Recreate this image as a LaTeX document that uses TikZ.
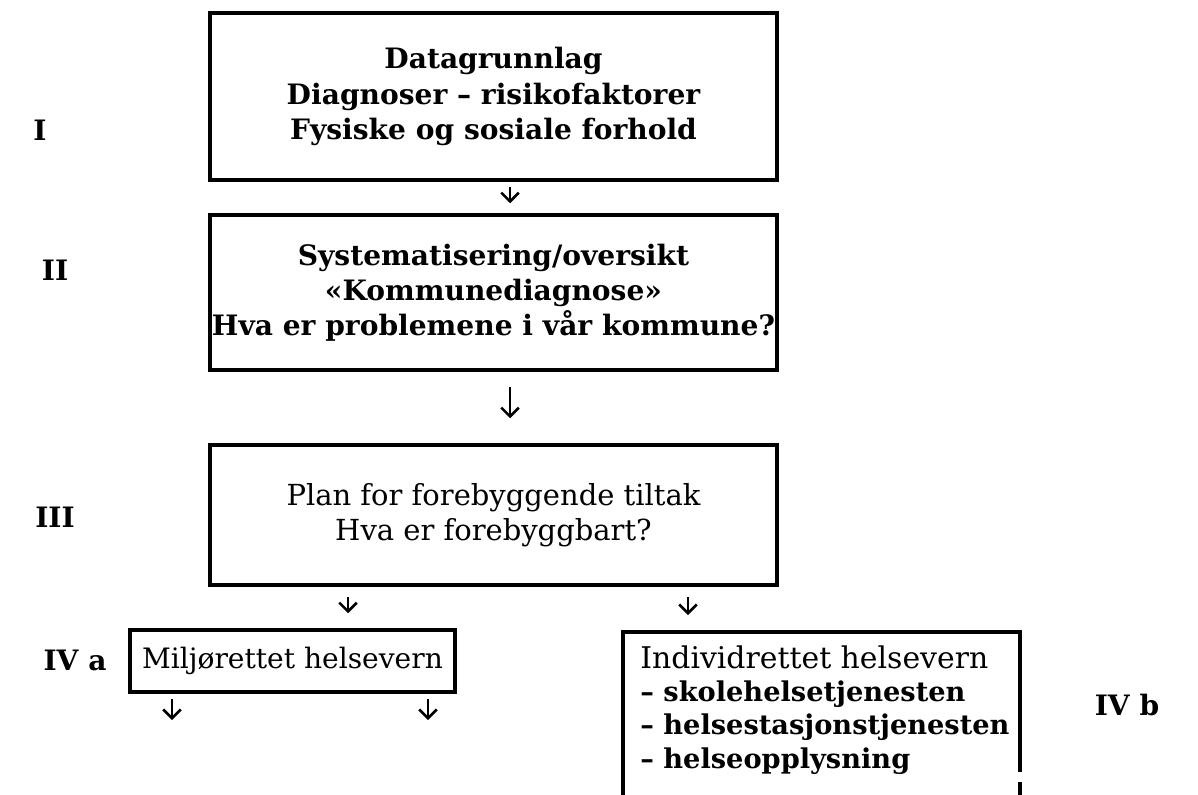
\documentclass[tikz,border=0pt]{standalone}
\usepackage{fontspec}
\setmainfont{DejaVu Serif}
\usetikzlibrary{arrows.meta, positioning}

\tikzset{
  stage/.style={draw, line width=2pt, align=center, inner sep=0pt,
    font=\fontsize{16}{20}\selectfont},
  level/.style={font=\bfseries\fontsize{16}{20}\selectfont},
  arr/.style={line width=1.5pt, -{Straight Barb[length=5pt,width=10pt,line width=1.5pt]}}
}

\begin{document}
\begin{tikzpicture}[x=0.02cm, y=-0.02cm]

  \useasboundingbox (0,0) rectangle (1198,795);

  % main column
  \node[stage, minimum width=567*0.02cm, minimum height=167*0.02cm] (data) at (493.5,96.5)
    {\bfseries Datagrunnlag\\ \bfseries Diagnoser -- risikofaktorer\\ \bfseries Fysiske og sosiale forhold};
  \node[stage, minimum width=567*0.02cm, minimum height=155*0.02cm] (syst) at (493.5,292.5)
    {\bfseries Systematisering/oversikt\\ \bfseries «Kommunediagnose»\\ \bfseries Hva er problemene i vår kommune?};
  \node[stage, minimum width=567*0.02cm, minimum height=140*0.02cm] (plan) at (493.5,515)
    {\fontsize{16.5}{20}\selectfont Plan for forebyggende tiltak\\ \fontsize{16.5}{20}\selectfont Hva er forebyggbart?};

  % level IV
  \node[stage, minimum width=325*0.02cm, minimum height=62*0.02cm] (milj) at (292.5,661)
    {Miljørettet helsevern};
  \coordinate (indivtop) at (688,632);
  \draw[line width=2pt] (623,795) -- (623,632) -- (1020,632) -- (1020,772);
  \draw[line width=2pt] (1020,782) -- (1020,795);
  \node[anchor=north west, align=left, inner sep=0pt,
    font=\fontsize{15.5}{19}\selectfont] (indiv) at (640,645)
    {\fontsize{17}{19}\selectfont Individrettet helsevern\\ \bfseries -- skolehelsetjenesten\\ \bfseries -- helsestasjonstjenesten\\ \bfseries -- helseopplysning};

  % roman numerals
  \node[level] (l1) at (40,130) {I};
  \node[level] (l2) at (55,270) {II};
  \node[level] (l3) at (55,517) {III};
  \node[level] (l4a) at (75,660) {IV a};
  \node[level] (l4b) at (1127,705) {IV b};

  \coordinate (out1) at (172,720);
  \coordinate (out2) at (428,720);

  \draw[arr, shorten <=5*0.02cm, shorten >=10*0.02cm] (data.south -| indivtop) ++(-178,0) -- (syst.north -| 510,0);
  \draw[arr, shorten <=15*0.02cm, shorten >=25*0.02cm] (syst.south -| 510,0) -- (plan.north -| 510,0);
  \draw[arr, shorten <=10*0.02cm, shorten >=15*0.02cm] (plan.south -| 348,0) -- (milj.north -| 348,0);
  \draw[arr, shorten <=10*0.02cm, shorten >=17*0.02cm] (plan.south -| indivtop) -- (indivtop);
  \draw[arr, shorten <=5*0.02cm] (milj.south -| out1) -- (out1);
  \draw[arr, shorten <=5*0.02cm] (milj.south -| out2) -- (out2);

\end{tikzpicture}
\end{document}
